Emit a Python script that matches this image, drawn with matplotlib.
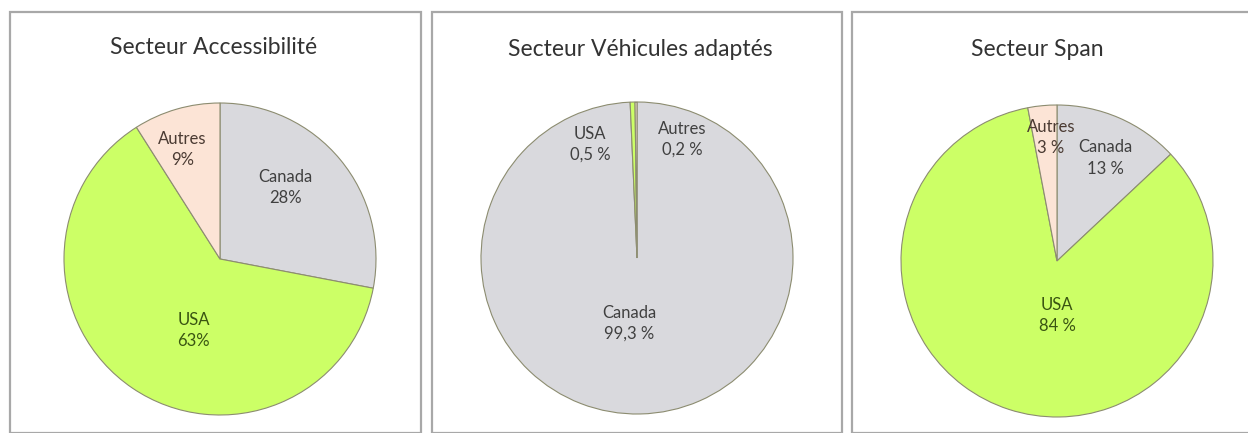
import matplotlib
matplotlib.use("Agg")
import matplotlib.pyplot as plt
from matplotlib.patches import Rectangle

# ---- data ----
titles = ["Secteur Accessibilité", "Secteur Véhicules adaptés", "Secteur Span"]
categories = ["Canada", "USA", "Autres"]
values_access = [28, 63, 9]
values_vehic = [99.3, 0.5, 0.2]
values_span = [13, 84, 3]
labels_access = ["Canada\n28%", "USA\n63%", "Autres\n9%"]
labels_vehic = ["Canada\n99,3 %", "USA\n0,5 %", "Autres\n0,2 %"]
labels_span = ["Canada\n13 %", "USA\n84 %", "Autres\n3 %"]

# ---- style / layout ----
colors = {"Canada": "#D9D9DD", "USA": "#CCFF66", "Autres": "#FCE4D6"}
grey_txt = "#404040"
text_colors = [
    {"Canada": grey_txt, "USA": "#3A5512", "Autres": "#4A3A32"},
    {"Canada": grey_txt, "USA": grey_txt, "Autres": grey_txt},
    {"Canada": grey_txt, "USA": "#3A5512", "Autres": "#4A3A32"},
]
W, H = 1248, 433
centers = [(220, 259), (637, 258), (1057, 261)]
radius = 156
label_pos = [
    {"Canada": (0.42, 0.46), "USA": (-0.17, -0.46), "Autres": (-0.24, 0.70)},
    {"Canada": (-0.05, -0.42), "USA": (-0.30, 0.73), "Autres": (0.29, 0.76)},
    {"Canada": (0.31, 0.66), "USA": (0.0, -0.35), "Autres": (-0.04, 0.79)},
]
panels = [(10, 12, 411), (432, 12, 410), (852, 12, 400)]
title_pos = [(214, 47), (640, 49), (1037, 49)]

fig = plt.figure(figsize=(W / 100, H / 100), dpi=100)
fig.patch.set_facecolor("white")

for (px, py, pw) in panels:
    fig.patches.append(Rectangle((px / W, 0), pw / W, (H - py) / H,
                                 transform=fig.transFigure, fill=False,
                                 edgecolor="#A8A8A8", linewidth=1.6, clip_on=False))

all_vals = [values_access, values_vehic, values_span]
all_labels = [labels_access, labels_vehic, labels_span]

for i in range(3):
    cx, cy = centers[i]
    ax = fig.add_axes([(cx - radius) / W, (H - cy - radius) / H,
                       2 * radius / W, 2 * radius / H])
    ax.pie(all_vals[i], colors=[colors[c] for c in categories],
           startangle=90, counterclock=False, radius=1,
           wedgeprops=dict(edgecolor="#8C8C70", linewidth=0.8))
    ax.set_xlim(-1, 1)
    ax.set_ylim(-1, 1)
    ax.set_aspect("equal")
    ax.axis("off")
    for c, lab in zip(categories, all_labels[i]):
        x, y = label_pos[i][c]
        ax.text(x, y, lab, ha="center", va="center", fontsize=12,
                family="Lato", color=text_colors[i][c], linespacing=1.4)
    tx, ty = title_pos[i]
    fig.text(tx / W, 1 - ty / H, titles[i], ha="center", va="center",
             fontsize=16.5, family="Lato", color="#333333")

fig.savefig("out.png", dpi=100, facecolor="white")
